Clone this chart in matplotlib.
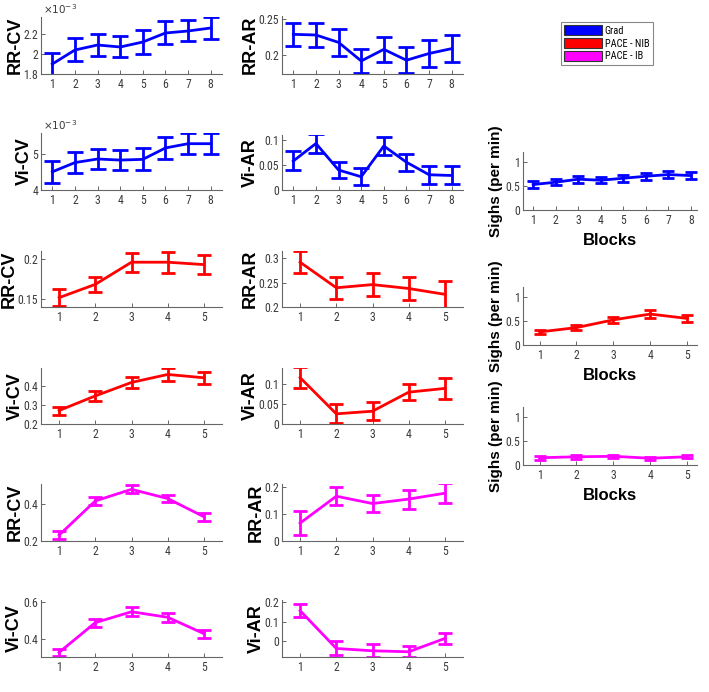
import os
import matplotlib
matplotlib.use("Agg")
import matplotlib.pyplot as plt
from matplotlib.patches import Patch
from matplotlib import font_manager
from matplotlib.font_manager import FontProperties

plt.rcParams['font.family'] = ['Liberation Sans', 'DejaVu Sans']


def find_narrow():
    prefs = ['LiberationSansNarrow-Regular', 'RobotoCondensed-Regular',
             'DejaVuSansCondensed.ttf', 'OpenSans_Condensed-Regular',
             'OpenSansCondensed-Regular']
    files = [f.fname for f in font_manager.fontManager.ttflist]
    for p in prefs:
        for fn in files:
            if p in os.path.basename(fn):
                return fn
    return None


_nf = find_narrow()
if _nf:
    TICK_FP = FontProperties(fname=_nf, size=8.5)
    SCI_FP = FontProperties(fname=_nf, size=7.5)
    LEG_FP = FontProperties(fname=_nf, size=7.5)
else:
    TICK_FP = FontProperties(family='Liberation Sans', size=7.8)
    SCI_FP = FontProperties(family='Liberation Sans', size=7)
    LEG_FP = FontProperties(family='Liberation Sans', size=7)

# ---------------- data ----------------
blocks8 = [1, 2, 3, 4, 5, 6, 7, 8]
blocks5 = [1, 2, 3, 4, 5]

# Grad (blue)
grad_rr_cv = [1.90e-3, 2.04e-3, 2.09e-3, 2.07e-3, 2.12e-3, 2.21e-3, 2.23e-3, 2.26e-3]
grad_rr_cv_err = [0.11e-3, 0.115e-3, 0.11e-3, 0.105e-3, 0.12e-3, 0.115e-3, 0.105e-3, 0.11e-3]
grad_rr_ar = [0.2287, 0.2278, 0.2176, 0.192, 0.208, 0.193, 0.2023, 0.209]
grad_rr_ar_err = [0.016, 0.017, 0.019, 0.017, 0.017, 0.018, 0.018, 0.019]
grad_vi_cv = [4.51e-3, 4.77e-3, 4.87e-3, 4.84e-3, 4.86e-3, 5.18e-3, 5.30e-3, 5.30e-3]
grad_vi_cv_err = [0.31e-3, 0.30e-3, 0.29e-3, 0.28e-3, 0.31e-3, 0.30e-3, 0.29e-3, 0.29e-3]
grad_vi_ar = [0.058, 0.093, 0.040, 0.0265, 0.088, 0.0556, 0.0305, 0.029]
grad_vi_ar_err = [0.019, 0.019, 0.016, 0.017, 0.018, 0.017, 0.018, 0.018]
grad_sighs = [0.527, 0.575, 0.637, 0.616, 0.657, 0.698, 0.733, 0.712]
grad_sighs_err = [0.07, 0.06, 0.07, 0.06, 0.07, 0.07, 0.07, 0.07]

# PACE - NIB (red)
nib_rr_cv = [0.1517, 0.1683, 0.196, 0.196, 0.193]
nib_rr_cv_err = [0.011, 0.0098, 0.012, 0.013, 0.012]
nib_rr_ar = [0.292, 0.2395, 0.246, 0.238, 0.226]
nib_rr_ar_err = [0.023, 0.0225, 0.024, 0.023, 0.028]
nib_vi_cv = [0.271, 0.348, 0.419, 0.461, 0.4435]
nib_vi_cv_err = [0.021, 0.025, 0.028, 0.032, 0.032]
nib_vi_ar = [0.116, 0.0254, 0.032, 0.0796, 0.089]
nib_vi_ar_err = [0.026, 0.024, 0.023, 0.020, 0.026]
nib_sighs = [0.27, 0.36, 0.52, 0.64, 0.55]
nib_sighs_err = [0.05, 0.05, 0.06, 0.08, 0.07]

# PACE - IB (magenta)
ib_rr_cv = [0.232, 0.418, 0.481, 0.431, 0.332]
ib_rr_cv_err = [0.022, 0.022, 0.022, 0.020, 0.021]
ib_rr_ar = [0.066, 0.165, 0.138, 0.1544, 0.176]
ib_rr_ar_err = [0.045, 0.033, 0.031, 0.035, 0.037]
ib_vi_cv = [0.325, 0.487, 0.546, 0.516, 0.427]
ib_vi_cv_err = [0.020, 0.022, 0.024, 0.024, 0.022]
ib_vi_ar = [0.157, -0.038, -0.050, -0.055, 0.0137]
ib_vi_ar_err = [0.034, 0.036, 0.034, 0.028, 0.029]
ib_sighs = [0.15, 0.17, 0.18, 0.14, 0.17]
ib_sighs_err = [0.04, 0.04, 0.03, 0.03, 0.03]

group_labels = ['Grad', 'PACE - NIB', 'PACE - IB']
group_colors = ['#0000ff', '#ff0000', '#ff00ff']

# ---------------- layout ----------------
W, H = 709, 692
fig = plt.figure(figsize=(W / 100, H / 100), dpi=100)


def add_ax(x0, x1, y0, y1):
    return fig.add_axes([x0 / W, 1 - y1 / H, (x1 - x0) / W, (y1 - y0) / H])


SPINE = '#666666'
TICKC = '#3a3a3a'


def style(ax, xs, ylim, yticks, ylabel, sci=False, lsize=13, xlim=None,
          lpad=0):
    for s in ['top', 'right']:
        ax.spines[s].set_visible(False)
    for s in ['left', 'bottom']:
        ax.spines[s].set_color(SPINE)
        ax.spines[s].set_linewidth(0.8)
    ax.set_xlim(*(xlim if xlim else (0.5, len(xs) + 0.5)))
    ax.set_ylim(*ylim)
    ax.set_xticks(xs, labels=[str(x) for x in xs], fontproperties=TICK_FP)
    if sci:
        ylabs = [f"{v * 1e3:g}" for v in yticks]
        ax.text(0.01, 1.02, r'$\times10^{-3}$', transform=ax.transAxes,
                color=TICKC, va='bottom', ha='left', fontproperties=SCI_FP)
    else:
        ylabs = [f"{v:g}" for v in yticks]
    ax.set_yticks(yticks, labels=ylabs, fontproperties=TICK_FP)
    ax.tick_params(direction='in', length=3, width=0.7, color=SPINE,
                   labelcolor=TICKC)
    ax.tick_params(axis='y', pad=2)
    ax.tick_params(axis='x', pad=3)
    ax.set_ylabel(ylabel, fontsize=lsize, fontweight='bold', labelpad=lpad)


def draw(ax, xs, ys, es, color, cap=5.5):
    ax.errorbar(xs, ys, yerr=es, color=color, lw=2, elinewidth=2,
                capsize=cap, capthick=2, clip_on=True)


C1 = (41, 222)
C2 = (282, 463)
C3 = (523, 697)

# Grad rows
ax = add_ax(*C1, 17, 74)
draw(ax, blocks8, grad_rr_cv, grad_rr_cv_err, group_colors[0])
style(ax, blocks8, (1.8e-3, 2.37e-3), [1.8e-3, 2.0e-3, 2.2e-3], 'RR-CV', sci=True)

ax = add_ax(*C2, 16, 74)
draw(ax, blocks8, grad_rr_ar, grad_rr_ar_err, group_colors[0])
style(ax, blocks8, (0.174, 0.254), [0.2, 0.25], 'RR-AR')

ax = add_ax(*C1, 133, 190)
draw(ax, blocks8, grad_vi_cv, grad_vi_cv_err, group_colors[0])
style(ax, blocks8, (4e-3, 5.6e-3), [4e-3, 5e-3], 'Vi-CV', sci=True)

ax = add_ax(*C2, 135, 190)
draw(ax, blocks8, grad_vi_ar, grad_vi_ar_err, group_colors[0])
style(ax, blocks8, (0, 0.11), [0, 0.05, 0.1], 'Vi-AR')

sigh_kw = dict(lsize=11, lpad=2)

ax = add_ax(*C3, 152, 210)
draw(ax, blocks8, grad_sighs, grad_sighs_err, group_colors[0], cap=4.5)
style(ax, blocks8, (0, 1.2), [0, 0.5, 1], 'Sighs (per min)',
      xlim=(0.55, 8.27), **sigh_kw)
ax.set_xlabel('Blocks', fontsize=12, fontweight='bold', labelpad=4)

# PACE - NIB rows
ax = add_ax(*C1, 251, 307)
draw(ax, blocks5, nib_rr_cv, nib_rr_cv_err, group_colors[1], cap=5)
style(ax, blocks5, (0.14, 0.21), [0.15, 0.2], 'RR-CV')

ax = add_ax(*C2, 251, 307)
draw(ax, blocks5, nib_rr_ar, nib_rr_ar_err, group_colors[1], cap=5)
style(ax, blocks5, (0.2, 0.315), [0.2, 0.25, 0.3], 'RR-AR')

ax = add_ax(*C1, 368, 424)
draw(ax, blocks5, nib_vi_cv, nib_vi_cv_err, group_colors[1], cap=5)
style(ax, blocks5, (0.2, 0.495), [0.2, 0.3, 0.4], 'Vi-CV')

ax = add_ax(*C2, 368, 424)
draw(ax, blocks5, nib_vi_ar, nib_vi_ar_err, group_colors[1], cap=5)
style(ax, blocks5, (0, 0.14), [0, 0.05, 0.1], 'Vi-AR')

ax = add_ax(*C3, 287, 345)
draw(ax, blocks5, nib_sighs, nib_sighs_err, group_colors[1], cap=4.5)
style(ax, blocks5, (0, 1.2), [0, 0.5, 1], 'Sighs (per min)',
      xlim=(0.55, 5.27), **sigh_kw)
ax.set_xlabel('Blocks', fontsize=12, fontweight='bold', labelpad=4)

# PACE - IB rows
ax = add_ax(*C1, 484, 541)
draw(ax, blocks5, ib_rr_cv, ib_rr_cv_err, group_colors[2], cap=5)
style(ax, blocks5, (0.2, 0.51), [0.2, 0.4], 'RR-CV')

ax = add_ax(*C2, 484, 541)
draw(ax, blocks5, ib_rr_ar, ib_rr_ar_err, group_colors[2], cap=5)
style(ax, blocks5, (0, 0.21), [0, 0.1, 0.2], 'RR-AR')

ax = add_ax(*C1, 600, 657)
draw(ax, blocks5, ib_vi_cv, ib_vi_cv_err, group_colors[2], cap=5)
style(ax, blocks5, (0.3, 0.61), [0.4, 0.6], 'Vi-CV')

ax = add_ax(*C2, 600, 657)
draw(ax, blocks5, ib_vi_ar, ib_vi_ar_err, group_colors[2], cap=5)
style(ax, blocks5, (-0.082, 0.212), [0, 0.1, 0.2], 'Vi-AR')

ax = add_ax(*C3, 407, 465)
draw(ax, blocks5, ib_sighs, ib_sighs_err, group_colors[2], cap=4.5)
style(ax, blocks5, (0, 1.2), [0, 0.5, 1], 'Sighs (per min)',
      xlim=(0.55, 5.27), **sigh_kw)
ax.set_xlabel('Blocks', fontsize=12, fontweight='bold', labelpad=4)

# legend
handles = [Patch(facecolor=c, edgecolor='#333333', linewidth=0.8, label=l)
           for c, l in zip(group_colors, group_labels)]
leg = fig.legend(handles=handles, loc='upper left',
                 bbox_to_anchor=(561 / W, 1 - 22 / H),
                 handlelength=3.6, handleheight=1.15, labelspacing=0.2,
                 borderpad=0.3, handletextpad=0.3, fancybox=False,
                 borderaxespad=0, edgecolor='#888888', framealpha=1,
                 prop=LEG_FP)
leg.get_frame().set_linewidth(0.8)

fig.savefig('out.png', dpi=100)
